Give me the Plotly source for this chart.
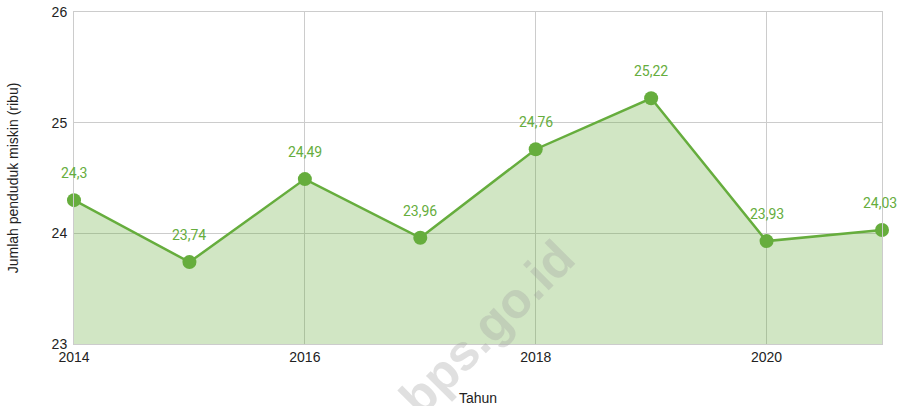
import plotly.graph_objects as go

years = [2014, 2015, 2016, 2017, 2018, 2019, 2020, 2021]
values = [24.30, 23.74, 24.49, 23.96, 24.76, 25.22, 23.93, 24.03]
labels = ["24,3", "23,74", "24,49", "23,96", "24,76", "25,22", "23,93", "24,03"]
x_ticks = [2014, 2016, 2018, 2020]
y_ticks = [23, 24, 25, 26]

FONT = "Liberation Sans, Arial, sans-serif"
LFONT = "Roboto, Liberation Sans, sans-serif"
GREEN = "#66ad3d"

W, H = 906, 406
L, R, T, B = 74, 24, 12, 62
pw, ph = W - L - R, H - T - B

fig = go.Figure()
fig.add_trace(go.Scatter(
    x=years, y=values, mode="lines+markers",
    line=dict(color=GREEN, width=2.5),
    marker=dict(size=14, color=GREEN),
    fill="tozeroy", fillcolor="rgba(102,173,61,0.3)",
    hoverinfo="skip", cliponaxis=False,
))

for i, (xv, yv, t) in enumerate(zip(years, values, labels)):
    fig.add_annotation(x=xv, y=yv, text=t, showarrow=False, yshift=27,
                       xshift=-2 if i == len(years) - 1 else 0,
                       font=dict(family=LFONT, size=14, color=GREEN))

# watermark, centred at page pixel (487, 328)
wx, wy = 487, 328
fig.add_annotation(x=(wx - L) / pw, y=(H - B - wy) / ph, xref="paper", yref="paper",
                   xanchor="center", yanchor="middle",
                   text="<b>bps.go.id</b>", showarrow=False, textangle=-45,
                   font=dict(family=FONT, size=50, color="rgba(160,160,160,0.32)"))

fig.update_layout(
    width=W, height=H,
    margin=dict(l=L, r=R, t=T, b=B),
    plot_bgcolor="white", paper_bgcolor="white",
    showlegend=False,
    font=dict(family=FONT, size=14, color="#222"),
    xaxis=dict(range=[2014, 2021], tickvals=x_ticks, ticktext=[str(v) for v in x_ticks],
               showgrid=True, gridcolor="#cccccc", gridwidth=1,
               showline=True, linecolor="#cccccc", mirror=True, zeroline=False,
               ticks="", automargin=False,
               title=dict(text="Tahun", font=dict(size=14), standoff=32),
               tickfont=dict(size=14, color="#222")),
    yaxis=dict(range=[23, 26], tickvals=y_ticks,
               showgrid=True, gridcolor="#cccccc", gridwidth=1,
               showline=True, linecolor="#cccccc", mirror=True, zeroline=False,
               ticks="", automargin=False, ticklabelstandoff=3,
               title=dict(text="Jumlah penduduk miskin (ribu)", font=dict(size=14), standoff=29),
               tickfont=dict(size=14, color="#222")),
)

fig.write_html("out.html", config={"displayModeBar": False},
               post_script="document.body.style.margin='0';document.body.style.overflow='hidden';")
